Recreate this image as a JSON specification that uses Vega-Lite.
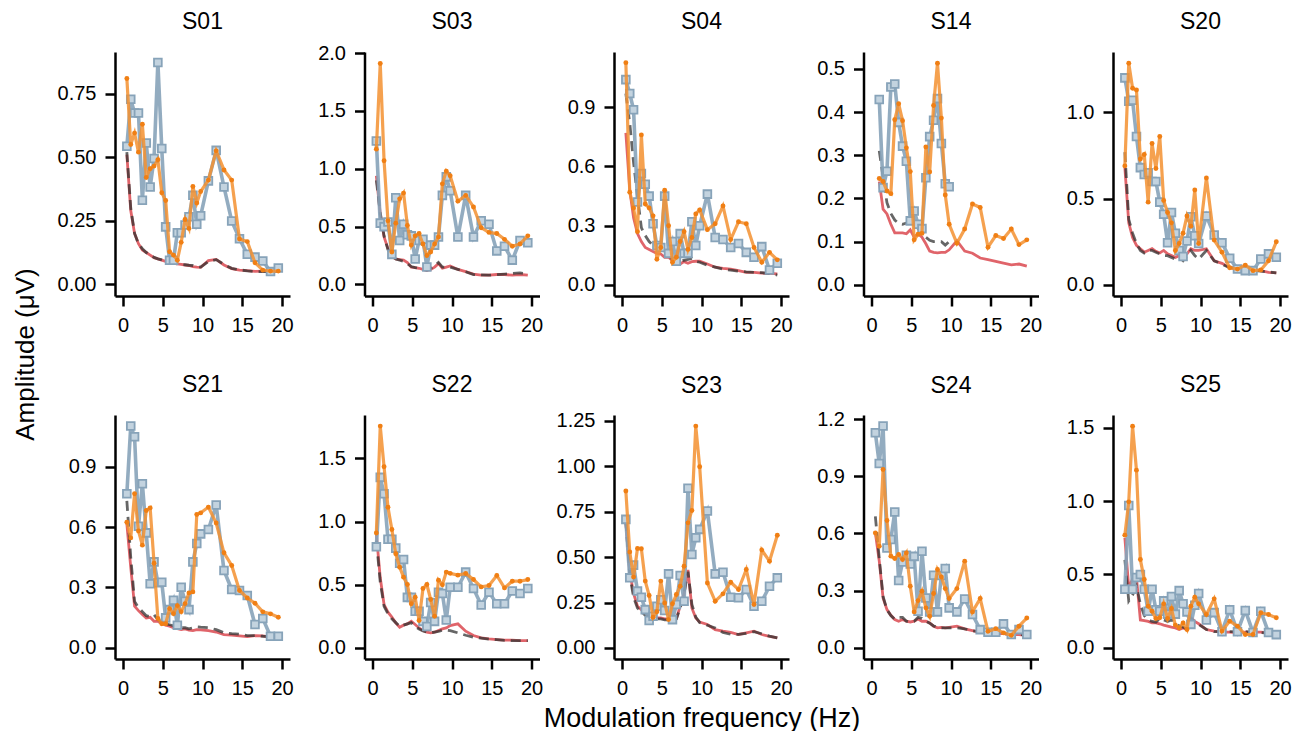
{
"$schema":"https://vega.github.io/schema/vega-lite/v6.json",
"background":"white",
"padding":{"left":12,"top":11,"right":0,"bottom":0},
"config":{
 "view":{"stroke":null},
 "font":"Liberation Sans",
 "axis":{"grid":false,"domainColor":"black","domainWidth":2.5,"tickColor":"black","tickWidth":2.5,"tickSize":10,"labelFontSize":20,"labelColor":"black","labelFont":"Liberation Sans","titleFont":"Liberation Sans","titleFontSize":26,"titleFontWeight":"normal","titleColor":"black","labelPadding":9},
 "title":{"fontSize":23,"fontWeight":"normal","font":"Liberation Sans","color":"black","anchor":"middle","frame":"group","baseline":"alphabetic","offset":18}
},
"data":{"values":[
{"s":"S01","f":0.49,"o":0.81,"b":0.543,"r":0.51,"d":0.52},
{"s":"S01","f":0.98,"o":0.55,"b":0.728,"r":0.29,"d":0.3},
{"s":"S01","f":1.46,"o":0.595,"b":0.674,"r":0.2,"d":0.2},
{"s":"S01","f":1.95,"o":0.52,"b":0.674,"r":0.16,"d":0.16},
{"s":"S01","f":2.44,"o":0.63,"b":0.331,"r":0.135,"d":0.14},
{"s":"S01","f":2.93,"o":0.42,"b":0.556,"r":0.125,"d":0.125},
{"s":"S01","f":3.42,"o":0.455,"b":0.383,"r":0.115,"d":0.115},
{"s":"S01","f":3.91,"o":0.465,"b":0.495,"r":0.105,"d":0.106},
{"s":"S01","f":4.39,"o":0.49,"b":0.873,"r":0.1,"d":0.1},
{"s":"S01","f":4.88,"o":0.36,"b":0.534,"r":0.095,"d":0.096},
{"s":"S01","f":5.37,"o":0.33,"b":0.226,"r":0.09,"d":0.09},
{"s":"S01","f":5.86,"o":0.128,"b":0.095,"r":0.085,"d":0.086},
{"s":"S01","f":6.35,"o":0.115,"b":0.095,"r":0.082,"d":0.083},
{"s":"S01","f":6.84,"o":0.095,"b":0.203,"r":0.08,"d":0.08},
{"s":"S01","f":7.32,"o":0.165,"b":0.203,"r":0.078,"d":0.078},
{"s":"S01","f":7.81,"o":0.255,"b":0.233,"r":0.076,"d":0.077},
{"s":"S01","f":8.3,"o":0.22,"b":0.266,"r":0.074,"d":0.075},
{"s":"S01","f":8.79,"o":0.385,"b":0.35,"r":0.07,"d":0.074},
{"s":"S01","f":9.28,"o":0.32,"b":0.236,"r":0.068,"d":0.07},
{"s":"S01","f":9.77,"o":0.365,"b":0.27,"r":0.067,"d":0.068},
{"s":"S01","f":10.74,"o":0.41,"b":0.407,"r":0.093,"d":0.09},
{"s":"S01","f":11.72,"o":0.525,"b":0.527,"r":0.098,"d":0.097},
{"s":"S01","f":12.7,"o":0.45,"b":0.383,"r":0.076,"d":0.078},
{"s":"S01","f":13.67,"o":0.41,"b":0.249,"r":0.062,"d":0.063},
{"s":"S01","f":14.65,"o":0.178,"b":0.179,"r":0.056,"d":0.057},
{"s":"S01","f":15.63,"o":0.168,"b":0.118,"r":0.054,"d":0.053},
{"s":"S01","f":16.6,"o":0.085,"b":0.107,"r":0.051,"d":0.05},
{"s":"S01","f":17.58,"o":0.056,"b":0.092,"r":0.052,"d":0.05},
{"s":"S01","f":18.55,"o":0.052,"b":0.05,"r":0.052,"d":0.05},
{"s":"S01","f":19.53,"o":0.052,"b":0.064,"r":0.052,"d":0.05},

{"s":"S03","f":0.49,"o":1.17,"b":1.24,"r":0.94,"d":0.9},
{"s":"S03","f":0.98,"o":1.91,"b":0.53,"r":0.61,"d":0.62},
{"s":"S03","f":1.46,"o":1.07,"b":0.5,"r":0.41,"d":0.42},
{"s":"S03","f":1.95,"o":0.55,"b":0.54,"r":0.31,"d":0.3},
{"s":"S03","f":2.44,"o":0.28,"b":0.26,"r":0.24,"d":0.25},
{"s":"S03","f":2.93,"o":0.53,"b":0.75,"r":0.22,"d":0.22},
{"s":"S03","f":3.42,"o":0.74,"b":0.38,"r":0.215,"d":0.21},
{"s":"S03","f":3.91,"o":0.79,"b":0.52,"r":0.21,"d":0.2},
{"s":"S03","f":4.39,"o":0.51,"b":0.43,"r":0.19,"d":0.18},
{"s":"S03","f":4.88,"o":0.34,"b":0.42,"r":0.15,"d":0.155},
{"s":"S03","f":5.37,"o":0.42,"b":0.22,"r":0.145,"d":0.145},
{"s":"S03","f":5.86,"o":0.44,"b":0.38,"r":0.14,"d":0.14},
{"s":"S03","f":6.35,"o":0.35,"b":0.39,"r":0.13,"d":0.13},
{"s":"S03","f":6.84,"o":0.25,"b":0.15,"r":0.12,"d":0.125},
{"s":"S03","f":7.32,"o":0.28,"b":0.34,"r":0.13,"d":0.14},
{"s":"S03","f":7.81,"o":0.35,"b":0.34,"r":0.15,"d":0.16},
{"s":"S03","f":8.3,"o":0.41,"b":0.41,"r":0.18,"d":0.19},
{"s":"S03","f":8.79,"o":0.87,"b":0.77,"r":0.14,"d":0.15},
{"s":"S03","f":9.28,"o":0.98,"b":0.93,"r":0.15,"d":0.15},
{"s":"S03","f":9.77,"o":0.94,"b":0.81,"r":0.16,"d":0.15},
{"s":"S03","f":10.74,"o":0.72,"b":0.41,"r":0.13,"d":0.13},
{"s":"S03","f":11.72,"o":0.77,"b":0.77,"r":0.11,"d":0.11},
{"s":"S03","f":12.7,"o":0.67,"b":0.41,"r":0.09,"d":0.085},
{"s":"S03","f":13.67,"o":0.49,"b":0.55,"r":0.08,"d":0.082},
{"s":"S03","f":14.65,"o":0.45,"b":0.52,"r":0.08,"d":0.08},
{"s":"S03","f":15.63,"o":0.44,"b":0.29,"r":0.086,"d":0.085},
{"s":"S03","f":16.6,"o":0.39,"b":0.33,"r":0.086,"d":0.09},
{"s":"S03","f":17.58,"o":0.33,"b":0.21,"r":0.08,"d":0.095},
{"s":"S03","f":18.55,"o":0.35,"b":0.38,"r":0.086,"d":0.1},
{"s":"S03","f":19.53,"o":0.42,"b":0.36,"r":0.08,"d":0.09},

{"s":"S04","f":0.49,"o":1.126,"b":1.04,"r":0.77,"d":0.97},
{"s":"S04","f":0.98,"o":0.47,"b":0.97,"r":0.48,"d":0.82},
{"s":"S04","f":1.46,"o":0.39,"b":0.887,"r":0.34,"d":0.62},
{"s":"S04","f":1.95,"o":0.27,"b":0.42,"r":0.26,"d":0.45},
{"s":"S04","f":2.44,"o":0.76,"b":0.565,"r":0.22,"d":0.29},
{"s":"S04","f":2.93,"o":0.41,"b":0.51,"r":0.19,"d":0.25},
{"s":"S04","f":3.42,"o":0.39,"b":0.45,"r":0.18,"d":0.22},
{"s":"S04","f":3.91,"o":0.35,"b":0.31,"r":0.17,"d":0.2},
{"s":"S04","f":4.39,"o":0.13,"b":0.2,"r":0.16,"d":0.19},
{"s":"S04","f":4.88,"o":0.19,"b":0.19,"r":0.157,"d":0.19},
{"s":"S04","f":5.37,"o":0.48,"b":0.45,"r":0.14,"d":0.17},
{"s":"S04","f":5.86,"o":0.3,"b":0.16,"r":0.14,"d":0.15},
{"s":"S04","f":6.35,"o":0.115,"b":0.22,"r":0.123,"d":0.13},
{"s":"S04","f":6.84,"o":0.14,"b":0.12,"r":0.11,"d":0.12},
{"s":"S04","f":7.32,"o":0.22,"b":0.26,"r":0.106,"d":0.12},
{"s":"S04","f":7.81,"o":0.27,"b":0.16,"r":0.118,"d":0.125},
{"s":"S04","f":8.3,"o":0.18,"b":0.16,"r":0.11,"d":0.13},
{"s":"S04","f":8.79,"o":0.24,"b":0.32,"r":0.118,"d":0.135},
{"s":"S04","f":9.28,"o":0.36,"b":0.2,"r":0.12,"d":0.12},
{"s":"S04","f":9.77,"o":0.38,"b":0.3,"r":0.12,"d":0.115},
{"s":"S04","f":10.74,"o":0.28,"b":0.46,"r":0.106,"d":0.1},
{"s":"S04","f":11.72,"o":0.31,"b":0.24,"r":0.09,"d":0.09},
{"s":"S04","f":12.7,"o":0.4,"b":0.23,"r":0.084,"d":0.08},
{"s":"S04","f":13.67,"o":0.23,"b":0.19,"r":0.08,"d":0.075},
{"s":"S04","f":14.65,"o":0.32,"b":0.21,"r":0.072,"d":0.07},
{"s":"S04","f":15.63,"o":0.31,"b":0.165,"r":0.064,"d":0.066},
{"s":"S04","f":16.6,"o":0.19,"b":0.14,"r":0.064,"d":0.064},
{"s":"S04","f":17.58,"o":0.115,"b":0.194,"r":0.06,"d":0.062},
{"s":"S04","f":18.55,"o":0.165,"b":0.076,"r":0.059,"d":0.058},
{"s":"S04","f":19.53,"o":0.127,"b":0.11,"r":0.056,"d":0.05},

{"s":"S14","f":0.98,"o":0.246,"b":0.429,"r":0.239,"d":0.31},
{"s":"S14","f":1.46,"o":0.239,"b":0.225,"r":0.175,"d":0.25},
{"s":"S14","f":1.95,"o":0.217,"b":0.263,"r":0.164,"d":0.19},
{"s":"S14","f":2.44,"o":0.211,"b":0.458,"r":0.14,"d":0.165},
{"s":"S14","f":2.93,"o":0.382,"b":0.465,"r":0.12,"d":0.15},
{"s":"S14","f":3.42,"o":0.419,"b":0.376,"r":0.12,"d":0.142},
{"s":"S14","f":3.91,"o":0.38,"b":0.321,"r":0.12,"d":0.14},
{"s":"S14","f":4.39,"o":0.317,"b":0.286,"r":0.118,"d":0.143},
{"s":"S14","f":4.88,"o":0.262,"b":0.148,"r":0.127,"d":0.148},
{"s":"S14","f":5.37,"o":0.104,"b":0.171,"r":0.11,"d":0.14},
{"s":"S14","f":5.86,"o":0.117,"b":0.14,"r":0.118,"d":0.13},
{"s":"S14","f":6.35,"o":0.119,"b":0.13,"r":0.11,"d":0.12},
{"s":"S14","f":6.84,"o":0.319,"b":0.248,"r":0.095,"d":0.11},
{"s":"S14","f":7.32,"o":0.261,"b":0.343,"r":0.078,"d":0.103},
{"s":"S14","f":7.81,"o":0.415,"b":0.381,"r":0.075,"d":0.1},
{"s":"S14","f":8.3,"o":0.513,"b":0.431,"r":0.074,"d":0.1},
{"s":"S14","f":8.79,"o":0.386,"b":0.327,"r":0.075,"d":0.1},
{"s":"S14","f":9.28,"o":0.208,"b":0.234,"r":0.075,"d":0.092},
{"s":"S14","f":9.77,"o":0.14,"b":0.227,"r":0.081,"d":0.1},
{"s":"S14","f":10.74,"o":0.096,"b":null,"r":0.102,"d":null},
{"s":"S14","f":11.72,"o":0.129,"b":null,"r":0.078,"d":null},
{"s":"S14","f":12.7,"o":0.187,"b":null,"r":0.073,"d":null},
{"s":"S14","f":13.67,"o":0.179,"b":null,"r":0.062,"d":null},
{"s":"S14","f":14.65,"o":0.087,"b":null,"r":0.058,"d":null},
{"s":"S14","f":15.63,"o":0.114,"b":null,"r":0.054,"d":null},
{"s":"S14","f":16.6,"o":0.107,"b":null,"r":0.05,"d":null},
{"s":"S14","f":17.58,"o":0.129,"b":null,"r":0.046,"d":null},
{"s":"S14","f":18.55,"o":0.093,"b":null,"r":0.048,"d":null},
{"s":"S14","f":19.53,"o":0.104,"b":null,"r":0.043,"d":null},

{"s":"S20","f":0.49,"o":0.69,"b":1.2,"r":0.68,"d":0.77},
{"s":"S20","f":0.98,"o":1.285,"b":1.065,"r":0.36,"d":0.38},
{"s":"S20","f":1.46,"o":1.14,"b":1.07,"r":0.275,"d":0.3},
{"s":"S20","f":1.95,"o":1.13,"b":0.86,"r":0.23,"d":0.24},
{"s":"S20","f":2.44,"o":0.73,"b":0.68,"r":0.21,"d":0.2},
{"s":"S20","f":2.93,"o":0.756,"b":0.64,"r":0.19,"d":0.185},
{"s":"S20","f":3.42,"o":0.48,"b":0.65,"r":0.2,"d":0.2},
{"s":"S20","f":3.91,"o":0.82,"b":0.6,"r":0.21,"d":0.2},
{"s":"S20","f":4.39,"o":0.675,"b":0.6,"r":0.195,"d":0.19},
{"s":"S20","f":4.88,"o":0.86,"b":0.48,"r":0.185,"d":0.18},
{"s":"S20","f":5.37,"o":0.49,"b":0.41,"r":0.2,"d":0.17},
{"s":"S20","f":5.86,"o":0.42,"b":0.245,"r":0.18,"d":0.17},
{"s":"S20","f":6.35,"o":0.36,"b":0.42,"r":0.17,"d":0.16},
{"s":"S20","f":6.84,"o":0.2,"b":0.3,"r":0.16,"d":0.15},
{"s":"S20","f":7.32,"o":0.24,"b":0.2,"r":0.17,"d":0.16},
{"s":"S20","f":7.81,"o":0.3,"b":0.165,"r":0.17,"d":0.14},
{"s":"S20","f":8.3,"o":0.4,"b":0.255,"r":0.18,"d":0.17},
{"s":"S20","f":8.79,"o":0.34,"b":0.395,"r":0.21,"d":0.2},
{"s":"S20","f":9.28,"o":0.55,"b":0.285,"r":0.2,"d":0.17},
{"s":"S20","f":9.77,"o":0.24,"b":0.24,"r":0.2,"d":0.15},
{"s":"S20","f":10.74,"o":0.62,"b":0.4,"r":0.21,"d":0.2},
{"s":"S20","f":11.72,"o":0.26,"b":0.29,"r":0.14,"d":0.14},
{"s":"S20","f":12.7,"o":0.19,"b":0.245,"r":0.125,"d":0.12},
{"s":"S20","f":13.67,"o":0.1,"b":0.155,"r":0.1,"d":0.1},
{"s":"S20","f":14.65,"o":0.092,"b":0.092,"r":0.096,"d":0.095},
{"s":"S20","f":15.63,"o":0.115,"b":0.083,"r":0.092,"d":0.09},
{"s":"S20","f":16.6,"o":0.083,"b":0.083,"r":0.087,"d":0.085},
{"s":"S20","f":17.58,"o":0.087,"b":0.15,"r":0.083,"d":0.08},
{"s":"S20","f":18.55,"o":0.14,"b":0.18,"r":0.073,"d":0.075},
{"s":"S20","f":19.53,"o":0.25,"b":0.16,"r":0.07,"d":0.07},

{"s":"S21","f":0.49,"o":0.624,"b":0.765,"r":0.616,"d":0.73},
{"s":"S21","f":0.98,"o":0.546,"b":1.101,"r":0.4,"d":0.45},
{"s":"S21","f":1.46,"o":0.765,"b":1.048,"r":0.207,"d":0.23},
{"s":"S21","f":1.95,"o":0.58,"b":0.604,"r":0.185,"d":0.2},
{"s":"S21","f":2.44,"o":0.51,"b":0.815,"r":0.166,"d":0.18},
{"s":"S21","f":2.93,"o":0.682,"b":0.571,"r":0.149,"d":0.16},
{"s":"S21","f":3.42,"o":0.695,"b":0.318,"r":0.152,"d":0.155},
{"s":"S21","f":3.91,"o":0.42,"b":0.427,"r":0.132,"d":0.165},
{"s":"S21","f":4.39,"o":0.146,"b":0.323,"r":0.132,"d":0.14},
{"s":"S21","f":4.88,"o":0.12,"b":0.326,"r":0.12,"d":0.13},
{"s":"S21","f":5.37,"o":0.12,"b":0.149,"r":0.113,"d":0.12},
{"s":"S21","f":5.86,"o":0.195,"b":0.19,"r":0.108,"d":0.115},
{"s":"S21","f":6.35,"o":0.17,"b":0.237,"r":0.1,"d":0.11},
{"s":"S21","f":6.84,"o":0.21,"b":0.113,"r":0.096,"d":0.105},
{"s":"S21","f":7.32,"o":0.18,"b":0.301,"r":0.091,"d":0.1},
{"s":"S21","f":7.81,"o":0.22,"b":0.232,"r":0.094,"d":0.1},
{"s":"S21","f":8.3,"o":0.273,"b":0.19,"r":0.088,"d":0.095},
{"s":"S21","f":8.79,"o":0.278,"b":0.427,"r":0.086,"d":0.1},
{"s":"S21","f":9.28,"o":0.662,"b":0.518,"r":0.091,"d":0.105},
{"s":"S21","f":9.77,"o":0.67,"b":0.566,"r":0.09,"d":0.103},
{"s":"S21","f":10.74,"o":0.699,"b":0.588,"r":0.086,"d":0.1},
{"s":"S21","f":11.72,"o":0.62,"b":0.709,"r":0.079,"d":0.091},
{"s":"S21","f":12.7,"o":0.472,"b":0.384,"r":0.066,"d":0.075},
{"s":"S21","f":13.67,"o":0.409,"b":0.29,"r":0.063,"d":0.071},
{"s":"S21","f":14.65,"o":0.285,"b":0.285,"r":0.06,"d":0.068},
{"s":"S21","f":15.63,"o":0.248,"b":0.26,"r":0.056,"d":0.061},
{"s":"S21","f":16.6,"o":0.222,"b":0.116,"r":0.061,"d":0.061},
{"s":"S21","f":17.58,"o":0.179,"b":0.146,"r":0.06,"d":0.058},
{"s":"S21","f":18.55,"o":0.169,"b":0.058,"r":0.053,"d":0.056},
{"s":"S21","f":19.53,"o":0.152,"b":0.058,"r":0.053,"d":0.053},

{"s":"S22","f":0.49,"o":0.91,"b":0.8,"r":0.9,"d":0.85},
{"s":"S22","f":0.98,"o":1.756,"b":1.35,"r":0.555,"d":0.52},
{"s":"S22","f":1.46,"o":1.434,"b":1.22,"r":0.343,"d":0.33},
{"s":"S22","f":1.95,"o":1.114,"b":0.86,"r":0.283,"d":0.27},
{"s":"S22","f":2.44,"o":0.937,"b":0.86,"r":0.243,"d":0.23},
{"s":"S22","f":2.93,"o":0.745,"b":0.79,"r":0.198,"d":0.2},
{"s":"S22","f":3.42,"o":0.639,"b":0.67,"r":0.164,"d":0.17},
{"s":"S22","f":3.91,"o":0.56,"b":0.7,"r":0.18,"d":0.18},
{"s":"S22","f":4.39,"o":0.502,"b":0.4,"r":0.19,"d":0.19},
{"s":"S22","f":4.88,"o":0.349,"b":0.4,"r":0.211,"d":0.2},
{"s":"S22","f":5.37,"o":0.401,"b":0.29,"r":0.185,"d":0.17},
{"s":"S22","f":5.86,"o":0.217,"b":0.29,"r":0.158,"d":0.15},
{"s":"S22","f":6.35,"o":0.47,"b":0.21,"r":0.137,"d":0.135},
{"s":"S22","f":6.84,"o":0.502,"b":0.17,"r":0.124,"d":0.125},
{"s":"S22","f":7.32,"o":0.383,"b":0.36,"r":0.119,"d":0.12},
{"s":"S22","f":7.81,"o":0.25,"b":0.21,"r":0.124,"d":0.125},
{"s":"S22","f":8.3,"o":0.536,"b":0.44,"r":0.137,"d":0.13},
{"s":"S22","f":8.79,"o":0.5,"b":0.43,"r":0.15,"d":0.14},
{"s":"S22","f":9.28,"o":0.6,"b":0.22,"r":0.158,"d":0.14},
{"s":"S22","f":9.77,"o":0.59,"b":0.48,"r":0.177,"d":0.137},
{"s":"S22","f":10.74,"o":0.576,"b":0.48,"r":0.19,"d":0.119},
{"s":"S22","f":11.72,"o":0.589,"b":0.6,"r":0.132,"d":0.1},
{"s":"S22","f":12.7,"o":0.541,"b":0.47,"r":0.098,"d":0.085},
{"s":"S22","f":13.67,"o":0.483,"b":0.34,"r":0.079,"d":0.078},
{"s":"S22","f":14.65,"o":0.494,"b":0.44,"r":0.071,"d":0.07},
{"s":"S22","f":15.63,"o":0.573,"b":0.35,"r":0.066,"d":0.065},
{"s":"S22","f":16.6,"o":0.475,"b":0.35,"r":0.061,"d":0.06},
{"s":"S22","f":17.58,"o":0.528,"b":0.45,"r":0.061,"d":0.058},
{"s":"S22","f":18.55,"o":0.528,"b":0.43,"r":0.058,"d":0.058},
{"s":"S22","f":19.53,"o":0.541,"b":0.47,"r":0.058,"d":0.058},

{"s":"S23","f":0.49,"o":0.864,"b":0.708,"r":0.69,"d":0.7},
{"s":"S23","f":0.98,"o":0.529,"b":0.386,"r":0.42,"d":0.4},
{"s":"S23","f":1.46,"o":0.39,"b":0.456,"r":0.3,"d":0.28},
{"s":"S23","f":1.95,"o":0.548,"b":0.313,"r":0.23,"d":0.22},
{"s":"S23","f":2.44,"o":0.546,"b":0.279,"r":0.21,"d":0.2},
{"s":"S23","f":2.93,"o":0.368,"b":0.211,"r":0.19,"d":0.18},
{"s":"S23","f":3.42,"o":0.289,"b":0.151,"r":0.18,"d":0.17},
{"s":"S23","f":3.91,"o":0.169,"b":0.175,"r":0.17,"d":0.165},
{"s":"S23","f":4.39,"o":0.199,"b":0.23,"r":0.165,"d":0.16},
{"s":"S23","f":4.88,"o":0.368,"b":0.265,"r":0.165,"d":0.16},
{"s":"S23","f":5.37,"o":0.248,"b":0.206,"r":0.16,"d":0.155},
{"s":"S23","f":5.86,"o":0.156,"b":0.408,"r":0.16,"d":0.155},
{"s":"S23","f":6.35,"o":0.243,"b":0.156,"r":0.155,"d":0.15},
{"s":"S23","f":6.84,"o":0.294,"b":0.239,"r":0.16,"d":0.16},
{"s":"S23","f":7.32,"o":0.34,"b":0.399,"r":0.23,"d":0.22},
{"s":"S23","f":7.81,"o":0.45,"b":0.257,"r":0.3,"d":0.3},
{"s":"S23","f":8.3,"o":0.689,"b":0.879,"r":0.43,"d":0.42},
{"s":"S23","f":8.79,"o":0.757,"b":0.515,"r":0.22,"d":0.24},
{"s":"S23","f":9.28,"o":1.222,"b":0.607,"r":0.165,"d":0.17},
{"s":"S23","f":9.77,"o":0.998,"b":0.653,"r":0.143,"d":0.14},
{"s":"S23","f":10.74,"o":0.358,"b":0.754,"r":0.129,"d":0.125},
{"s":"S23","f":11.72,"o":0.257,"b":0.408,"r":0.101,"d":0.11},
{"s":"S23","f":12.7,"o":0.298,"b":0.417,"r":0.092,"d":0.085},
{"s":"S23","f":13.67,"o":0.362,"b":0.279,"r":0.086,"d":0.075},
{"s":"S23","f":14.65,"o":0.322,"b":0.276,"r":0.074,"d":0.075},
{"s":"S23","f":15.63,"o":0.432,"b":0.322,"r":0.083,"d":0.08},
{"s":"S23","f":16.6,"o":0.239,"b":0.23,"r":0.092,"d":0.09},
{"s":"S23","f":17.58,"o":0.539,"b":0.257,"r":0.074,"d":0.078},
{"s":"S23","f":18.55,"o":0.478,"b":0.34,"r":0.064,"d":0.065},
{"s":"S23","f":19.53,"o":0.621,"b":0.386,"r":0.055,"d":0.055},

{"s":"S24","f":0.49,"o":0.603,"b":1.128,"r":0.603,"d":0.69},
{"s":"S24","f":0.98,"o":0.533,"b":0.967,"r":0.455,"d":0.47},
{"s":"S24","f":1.46,"o":0.935,"b":1.163,"r":0.262,"d":0.27},
{"s":"S24","f":1.95,"o":0.668,"b":0.524,"r":0.201,"d":0.2},
{"s":"S24","f":2.44,"o":0.481,"b":0.568,"r":0.171,"d":0.17},
{"s":"S24","f":2.93,"o":0.469,"b":0.713,"r":0.149,"d":0.15},
{"s":"S24","f":3.42,"o":0.49,"b":0.353,"r":0.14,"d":0.16},
{"s":"S24","f":3.91,"o":0.463,"b":0.45,"r":0.149,"d":0.16},
{"s":"S24","f":4.39,"o":0.498,"b":0.486,"r":0.14,"d":0.14},
{"s":"S24","f":4.88,"o":0.323,"b":0.44,"r":0.136,"d":0.135},
{"s":"S24","f":5.37,"o":0.189,"b":0.48,"r":0.14,"d":0.14},
{"s":"S24","f":5.86,"o":0.248,"b":0.192,"r":0.152,"d":0.16},
{"s":"S24","f":6.35,"o":0.297,"b":0.507,"r":0.14,"d":0.155},
{"s":"S24","f":6.84,"o":0.21,"b":0.262,"r":0.14,"d":0.14},
{"s":"S24","f":7.32,"o":0.166,"b":0.189,"r":0.131,"d":0.13},
{"s":"S24","f":7.81,"o":0.285,"b":0.381,"r":0.114,"d":0.115},
{"s":"S24","f":8.3,"o":0.411,"b":0.189,"r":0.105,"d":0.108},
{"s":"S24","f":8.79,"o":0.372,"b":0.38,"r":0.108,"d":0.105},
{"s":"S24","f":9.28,"o":0.311,"b":0.416,"r":0.105,"d":0.105},
{"s":"S24","f":9.77,"o":0.259,"b":0.21,"r":0.108,"d":0.105},
{"s":"S24","f":10.74,"o":0.311,"b":0.189,"r":0.114,"d":0.105},
{"s":"S24","f":11.72,"o":0.455,"b":0.257,"r":0.1,"d":0.1},
{"s":"S24","f":12.7,"o":0.189,"b":0.175,"r":0.091,"d":0.09},
{"s":"S24","f":13.67,"o":0.259,"b":0.096,"r":0.082,"d":0.085},
{"s":"S24","f":14.65,"o":0.087,"b":0.082,"r":0.079,"d":0.08},
{"s":"S24","f":15.63,"o":0.101,"b":0.082,"r":0.075,"d":0.077},
{"s":"S24","f":16.6,"o":0.079,"b":0.126,"r":0.075,"d":0.074},
{"s":"S24","f":17.58,"o":0.066,"b":0.07,"r":0.07,"d":0.072},
{"s":"S24","f":18.55,"o":0.114,"b":0.096,"r":0.07,"d":0.07},
{"s":"S24","f":19.53,"o":0.157,"b":0.07,"r":0.065,"d":0.068},

{"s":"S25","f":0.49,"o":0.768,"b":0.4,"r":0.75,"d":0.6},
{"s":"S25","f":0.98,"o":0.995,"b":0.97,"r":0.41,"d":0.32},
{"s":"S25","f":1.46,"o":1.511,"b":0.4,"r":0.47,"d":0.36},
{"s":"S25","f":1.95,"o":1.211,"b":0.48,"r":0.48,"d":0.42},
{"s":"S25","f":2.44,"o":0.602,"b":0.5,"r":0.19,"d":0.3},
{"s":"S25","f":2.93,"o":0.466,"b":0.4,"r":0.186,"d":0.22},
{"s":"S25","f":3.42,"o":0.284,"b":0.25,"r":0.18,"d":0.19},
{"s":"S25","f":3.91,"o":0.25,"b":0.4,"r":0.17,"d":0.18},
{"s":"S25","f":4.39,"o":0.2,"b":0.26,"r":0.17,"d":0.175},
{"s":"S25","f":4.88,"o":0.205,"b":0.25,"r":0.164,"d":0.2},
{"s":"S25","f":5.37,"o":0.3,"b":0.32,"r":0.155,"d":0.19},
{"s":"S25","f":5.86,"o":0.2,"b":0.23,"r":0.148,"d":0.18},
{"s":"S25","f":6.35,"o":0.268,"b":0.35,"r":0.141,"d":0.19},
{"s":"S25","f":6.84,"o":0.155,"b":0.23,"r":0.136,"d":0.17},
{"s":"S25","f":7.32,"o":0.136,"b":0.39,"r":0.125,"d":0.15},
{"s":"S25","f":7.81,"o":0.17,"b":0.3,"r":0.136,"d":0.14},
{"s":"S25","f":8.3,"o":0.125,"b":0.245,"r":0.125,"d":0.13},
{"s":"S25","f":8.79,"o":0.284,"b":0.16,"r":0.209,"d":0.2},
{"s":"S25","f":9.28,"o":0.345,"b":0.29,"r":0.18,"d":0.17},
{"s":"S25","f":9.77,"o":0.3,"b":0.37,"r":0.164,"d":0.16},
{"s":"S25","f":10.74,"o":0.227,"b":0.19,"r":0.125,"d":0.125},
{"s":"S25","f":11.72,"o":0.334,"b":0.24,"r":0.114,"d":0.11},
{"s":"S25","f":12.7,"o":0.114,"b":0.11,"r":0.107,"d":0.11},
{"s":"S25","f":13.67,"o":0.182,"b":0.26,"r":0.107,"d":0.11},
{"s":"S25","f":14.65,"o":0.148,"b":0.11,"r":0.102,"d":0.11},
{"s":"S25","f":15.63,"o":0.091,"b":0.255,"r":0.107,"d":0.11},
{"s":"S25","f":16.6,"o":0.091,"b":0.105,"r":0.107,"d":0.105},
{"s":"S25","f":17.58,"o":0.239,"b":0.25,"r":0.107,"d":0.105},
{"s":"S25","f":18.55,"o":0.227,"b":0.105,"r":0.102,"d":0.1},
{"s":"S25","f":19.53,"o":0.205,"b":0.09,"r":0.091,"d":0.095}
]},
"bounds":"flush",
"columns":5,
"spacing":{"row":119,"column":74.5},
"concat":[
{"title":{"text":"S01","offset":18},"width":175,"height":244,
 "transform":[{"filter":"datum.s==='S01'"},{"fold":["r","d","b","o"],"as":["k","v"]},{"filter":"isValid(datum.v)"}],
 "encoding":{"x":{"field":"f","type":"quantitative","scale":{"domain":[-1,21],"nice":false},"axis":{"values":[0,5,10,15,20],"title":null}},
  "y":{"field":"v","type":"quantitative","scale":{"domain":[-0.046,0.914],"nice":false,"zero":false},"axis":{"values":[0,0.25,0.5,0.75],"format":".2f","title":"Amplitude (μV)","titleX":-90,"titleY":302,"titleAlign":"center","titleBaseline":"middle","titleAngle":-90}}},
 "layer":[
  {"transform":[{"filter":"datum.k==='r'"}],"mark":{"type":"line","color":"#e0646a","strokeWidth":2.8}},
  {"transform":[{"filter":"datum.k==='d'"}],"mark":{"type":"line","color":"#333333","opacity":0.75,"strokeWidth":2.8,"strokeDash":[10,6]}},
  {"transform":[{"filter":"datum.k==='b'"}],"mark":{"type":"line","color":"#87a3b9","strokeWidth":3.6,"opacity":0.9,"point":{"shape":"square","size":60,"filled":true,"fill":"#c3d3df","stroke":"#87a3b9","strokeWidth":1.8,"opacity":1}}},
  {"transform":[{"filter":"datum.k==='o'"}],"mark":{"type":"line","color":"#f39030","strokeWidth":3.2,"opacity":0.85,"point":{"filled":true,"size":24,"color":"#f07f14","opacity":1}}}
 ]},
{"title":{"text":"S03","offset":9},"width":175,"height":244,
 "transform":[{"filter":"datum.s==='S03'"},{"fold":["r","d","b","o"],"as":["k","v"]},{"filter":"isValid(datum.v)"}],
 "encoding":{"x":{"field":"f","type":"quantitative","scale":{"domain":[-1,21],"nice":false},"axis":{"values":[0,5,10,15,20],"title":null}},
  "y":{"field":"v","type":"quantitative","scale":{"domain":[-0.1,2.01],"nice":false,"zero":false},"axis":{"values":[0,0.5,1,1.5,2],"format":".1f","title":null}}},
 "layer":[
  {"transform":[{"filter":"datum.k==='r'"}],"mark":{"type":"line","color":"#e0646a","strokeWidth":2.8}},
  {"transform":[{"filter":"datum.k==='d'"}],"mark":{"type":"line","color":"#333333","opacity":0.75,"strokeWidth":2.8,"strokeDash":[10,6]}},
  {"transform":[{"filter":"datum.k==='b'"}],"mark":{"type":"line","color":"#87a3b9","strokeWidth":3.6,"opacity":0.9,"point":{"shape":"square","size":60,"filled":true,"fill":"#c3d3df","stroke":"#87a3b9","strokeWidth":1.8,"opacity":1}}},
  {"transform":[{"filter":"datum.k==='o'"}],"mark":{"type":"line","color":"#f39030","strokeWidth":3.2,"opacity":0.85,"point":{"filled":true,"size":24,"color":"#f07f14","opacity":1}}}
 ]},
{"title":{"text":"S04","offset":18},"width":175,"height":244,
 "transform":[{"filter":"datum.s==='S04'"},{"fold":["r","d","b","o"],"as":["k","v"]},{"filter":"isValid(datum.v)"}],
 "encoding":{"x":{"field":"f","type":"quantitative","scale":{"domain":[-1,21],"nice":false},"axis":{"values":[0,5,10,15,20],"title":null}},
  "y":{"field":"v","type":"quantitative","scale":{"domain":[-0.056,1.18],"nice":false,"zero":false},"axis":{"values":[0,0.3,0.6,0.9],"format":".1f","title":null}}},
 "layer":[
  {"transform":[{"filter":"datum.k==='r'"}],"mark":{"type":"line","color":"#e0646a","strokeWidth":2.8}},
  {"transform":[{"filter":"datum.k==='d'"}],"mark":{"type":"line","color":"#333333","opacity":0.75,"strokeWidth":2.8,"strokeDash":[10,6]}},
  {"transform":[{"filter":"datum.k==='b'"}],"mark":{"type":"line","color":"#87a3b9","strokeWidth":3.6,"opacity":0.9,"point":{"shape":"square","size":60,"filled":true,"fill":"#c3d3df","stroke":"#87a3b9","strokeWidth":1.8,"opacity":1}}},
  {"transform":[{"filter":"datum.k==='o'"}],"mark":{"type":"line","color":"#f39030","strokeWidth":3.2,"opacity":0.85,"point":{"filled":true,"size":24,"color":"#f07f14","opacity":1}}}
 ]},
{"title":{"text":"S14","offset":18},"width":175,"height":244,
 "transform":[{"filter":"datum.s==='S14'"},{"fold":["r","d","b","o"],"as":["k","v"]},{"filter":"isValid(datum.v)"}],
 "encoding":{"x":{"field":"f","type":"quantitative","scale":{"domain":[-1,21],"nice":false},"axis":{"values":[0,5,10,15,20],"title":null}},
  "y":{"field":"v","type":"quantitative","scale":{"domain":[-0.026,0.539],"nice":false,"zero":false},"axis":{"values":[0,0.1,0.2,0.3,0.4,0.5],"format":".1f","title":null}}},
 "layer":[
  {"transform":[{"filter":"datum.k==='r'"}],"mark":{"type":"line","color":"#e0646a","strokeWidth":2.8}},
  {"transform":[{"filter":"datum.k==='d'"}],"mark":{"type":"line","color":"#333333","opacity":0.75,"strokeWidth":2.8,"strokeDash":[10,6]}},
  {"transform":[{"filter":"datum.k==='b'"}],"mark":{"type":"line","color":"#87a3b9","strokeWidth":3.6,"opacity":0.9,"point":{"shape":"square","size":60,"filled":true,"fill":"#c3d3df","stroke":"#87a3b9","strokeWidth":1.8,"opacity":1}}},
  {"transform":[{"filter":"datum.k==='o'"}],"mark":{"type":"line","color":"#f39030","strokeWidth":3.2,"opacity":0.85,"point":{"filled":true,"size":24,"color":"#f07f14","opacity":1}}}
 ]},
{"title":{"text":"S20","offset":18},"width":175,"height":244,
 "transform":[{"filter":"datum.s==='S20'"},{"fold":["r","d","b","o"],"as":["k","v"]},{"filter":"isValid(datum.v)"}],
 "encoding":{"x":{"field":"f","type":"quantitative","scale":{"domain":[-1,21],"nice":false},"axis":{"values":[0,5,10,15,20],"title":null}},
  "y":{"field":"v","type":"quantitative","scale":{"domain":[-0.064,1.35],"nice":false,"zero":false},"axis":{"values":[0,0.5,1],"format":".1f","title":null}}},
 "layer":[
  {"transform":[{"filter":"datum.k==='r'"}],"mark":{"type":"line","color":"#e0646a","strokeWidth":2.8}},
  {"transform":[{"filter":"datum.k==='d'"}],"mark":{"type":"line","color":"#333333","opacity":0.75,"strokeWidth":2.8,"strokeDash":[10,6]}},
  {"transform":[{"filter":"datum.k==='b'"}],"mark":{"type":"line","color":"#87a3b9","strokeWidth":3.6,"opacity":0.9,"point":{"shape":"square","size":60,"filled":true,"fill":"#c3d3df","stroke":"#87a3b9","strokeWidth":1.8,"opacity":1}}},
  {"transform":[{"filter":"datum.k==='o'"}],"mark":{"type":"line","color":"#f39030","strokeWidth":3.2,"opacity":0.85,"point":{"filled":true,"size":24,"color":"#f07f14","opacity":1}}}
 ]},
{"title":{"text":"S21","offset":18},"width":175,"height":244,
 "transform":[{"filter":"datum.s==='S21'"},{"fold":["r","d","b","o"],"as":["k","v"]},{"filter":"isValid(datum.v)"}],
 "encoding":{"x":{"field":"f","type":"quantitative","scale":{"domain":[-1,21],"nice":false},"axis":{"values":[0,5,10,15,20],"title":null}},
  "y":{"field":"v","type":"quantitative","scale":{"domain":[-0.055,1.156],"nice":false,"zero":false},"axis":{"values":[0,0.3,0.6,0.9],"format":".1f","title":null}}},
 "layer":[
  {"transform":[{"filter":"datum.k==='r'"}],"mark":{"type":"line","color":"#e0646a","strokeWidth":2.8}},
  {"transform":[{"filter":"datum.k==='d'"}],"mark":{"type":"line","color":"#333333","opacity":0.75,"strokeWidth":2.8,"strokeDash":[10,6]}},
  {"transform":[{"filter":"datum.k==='b'"}],"mark":{"type":"line","color":"#87a3b9","strokeWidth":3.6,"opacity":0.9,"point":{"shape":"square","size":60,"filled":true,"fill":"#c3d3df","stroke":"#87a3b9","strokeWidth":1.8,"opacity":1}}},
  {"transform":[{"filter":"datum.k==='o'"}],"mark":{"type":"line","color":"#f39030","strokeWidth":3.2,"opacity":0.85,"point":{"filled":true,"size":24,"color":"#f07f14","opacity":1}}}
 ]},
{"title":{"text":"S22","offset":18},"width":175,"height":244,
 "transform":[{"filter":"datum.s==='S22'"},{"fold":["r","d","b","o"],"as":["k","v"]},{"filter":"isValid(datum.v)"}],
 "encoding":{"x":{"field":"f","type":"quantitative","scale":{"domain":[-1,21],"nice":false},"axis":{"values":[0,5,10,15,20],"title":null}},
  "y":{"field":"v","type":"quantitative","scale":{"domain":[-0.088,1.844],"nice":false,"zero":false},"axis":{"values":[0,0.5,1,1.5],"format":".1f","title":null}}},
 "layer":[
  {"transform":[{"filter":"datum.k==='r'"}],"mark":{"type":"line","color":"#e0646a","strokeWidth":2.8}},
  {"transform":[{"filter":"datum.k==='d'"}],"mark":{"type":"line","color":"#333333","opacity":0.75,"strokeWidth":2.8,"strokeDash":[10,6]}},
  {"transform":[{"filter":"datum.k==='b'"}],"mark":{"type":"line","color":"#87a3b9","strokeWidth":3.6,"opacity":0.9,"point":{"shape":"square","size":60,"filled":true,"fill":"#c3d3df","stroke":"#87a3b9","strokeWidth":1.8,"opacity":1}}},
  {"transform":[{"filter":"datum.k==='o'"}],"mark":{"type":"line","color":"#f39030","strokeWidth":3.2,"opacity":0.85,"point":{"filled":true,"size":24,"color":"#f07f14","opacity":1}}}
 ]},
{"title":{"text":"S23","offset":13},"width":175,"height":244,
 "transform":[{"filter":"datum.s==='S23'"},{"fold":["r","d","b","o"],"as":["k","v"]},{"filter":"isValid(datum.v)"}],
 "encoding":{"x":{"field":"f","type":"quantitative","scale":{"domain":[-1,21],"nice":false},"axis":{"values":[0,5,10,15,20],"title":"Modulation frequency (Hz)","titlePadding":7,"titleFontSize":27}},
  "y":{"field":"v","type":"quantitative","scale":{"domain":[-0.061,1.283],"nice":false,"zero":false},"axis":{"values":[0,0.25,0.5,0.75,1,1.25],"format":".2f","title":null}}},
 "layer":[
  {"transform":[{"filter":"datum.k==='r'"}],"mark":{"type":"line","color":"#e0646a","strokeWidth":2.8}},
  {"transform":[{"filter":"datum.k==='d'"}],"mark":{"type":"line","color":"#333333","opacity":0.75,"strokeWidth":2.8,"strokeDash":[10,6]}},
  {"transform":[{"filter":"datum.k==='b'"}],"mark":{"type":"line","color":"#87a3b9","strokeWidth":3.6,"opacity":0.9,"point":{"shape":"square","size":60,"filled":true,"fill":"#c3d3df","stroke":"#87a3b9","strokeWidth":1.8,"opacity":1}}},
  {"transform":[{"filter":"datum.k==='o'"}],"mark":{"type":"line","color":"#f39030","strokeWidth":3.2,"opacity":0.85,"point":{"filled":true,"size":24,"color":"#f07f14","opacity":1}}}
 ]},
{"title":{"text":"S24","offset":11},"width":175,"height":244,
 "transform":[{"filter":"datum.s==='S24'"},{"fold":["r","d","b","o"],"as":["k","v"]},{"filter":"isValid(datum.v)"}],
 "encoding":{"x":{"field":"f","type":"quantitative","scale":{"domain":[-1,21],"nice":false},"axis":{"values":[0,5,10,15,20],"title":null}},
  "y":{"field":"v","type":"quantitative","scale":{"domain":[-0.058,1.221],"nice":false,"zero":false},"axis":{"values":[0,0.3,0.6,0.9,1.2],"format":".1f","title":null}}},
 "layer":[
  {"transform":[{"filter":"datum.k==='r'"}],"mark":{"type":"line","color":"#e0646a","strokeWidth":2.8}},
  {"transform":[{"filter":"datum.k==='d'"}],"mark":{"type":"line","color":"#333333","opacity":0.75,"strokeWidth":2.8,"strokeDash":[10,6]}},
  {"transform":[{"filter":"datum.k==='b'"}],"mark":{"type":"line","color":"#87a3b9","strokeWidth":3.6,"opacity":0.9,"point":{"shape":"square","size":60,"filled":true,"fill":"#c3d3df","stroke":"#87a3b9","strokeWidth":1.8,"opacity":1}}},
  {"transform":[{"filter":"datum.k==='o'"}],"mark":{"type":"line","color":"#f39030","strokeWidth":3.2,"opacity":0.85,"point":{"filled":true,"size":24,"color":"#f07f14","opacity":1}}}
 ]},
{"title":{"text":"S25","offset":18},"width":175,"height":244,
 "transform":[{"filter":"datum.s==='S25'"},{"fold":["r","d","b","o"],"as":["k","v"]},{"filter":"isValid(datum.v)"}],
 "encoding":{"x":{"field":"f","type":"quantitative","scale":{"domain":[-1,21],"nice":false},"axis":{"values":[0,5,10,15,20],"title":null}},
  "y":{"field":"v","type":"quantitative","scale":{"domain":[-0.076,1.587],"nice":false,"zero":false},"axis":{"values":[0,0.5,1,1.5],"format":".1f","title":null}}},
 "layer":[
  {"transform":[{"filter":"datum.k==='r'"}],"mark":{"type":"line","color":"#e0646a","strokeWidth":2.8}},
  {"transform":[{"filter":"datum.k==='d'"}],"mark":{"type":"line","color":"#333333","opacity":0.75,"strokeWidth":2.8,"strokeDash":[10,6]}},
  {"transform":[{"filter":"datum.k==='b'"}],"mark":{"type":"line","color":"#87a3b9","strokeWidth":3.6,"opacity":0.9,"point":{"shape":"square","size":60,"filled":true,"fill":"#c3d3df","stroke":"#87a3b9","strokeWidth":1.8,"opacity":1}}},
  {"transform":[{"filter":"datum.k==='o'"}],"mark":{"type":"line","color":"#f39030","strokeWidth":3.2,"opacity":0.85,"point":{"filled":true,"size":24,"color":"#f07f14","opacity":1}}}
 ]}
]
}
